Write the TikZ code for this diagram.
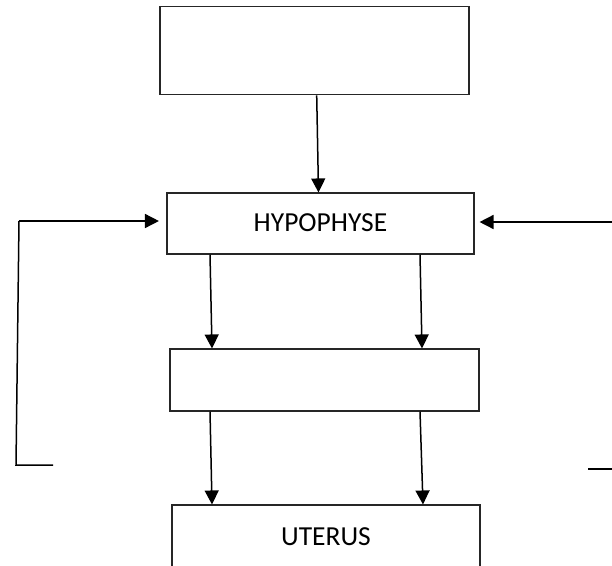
\documentclass[tikz,border=0pt]{standalone}
\usepackage{fontspec}
\setmainfont{Carlito}
\usetikzlibrary{arrows.meta,calc}
\begin{document}
\begin{tikzpicture}[x=1pt,y=-1pt,
  box/.style={draw=black!85,line width=1.1pt,inner sep=0pt,font=\fontsize{27.5}{32}\selectfont},
  arr/.style={line width=1.5pt,-{Triangle[length=14pt,width=14pt]}},
  ln/.style={line width=1.5pt}]
\useasboundingbox (0,0) rectangle (612,565);
\clip (0,0) rectangle (612,565);
\node[box,minimum width=309pt,minimum height=88.7pt] (top) at (314.5,50.5) {};
\node[box,minimum width=307pt,minimum height=61pt] (hyp) at (320.5,223.5) {\raisebox{1.5pt}{HYPOPHYSE}};
\node[box,minimum width=309pt,minimum height=62pt] (mid) at (324.5,380) {};
\node[box,minimum width=308pt,minimum height=70pt] (ute) at (326,540) {\raisebox{7pt}{UTERUS}};
% vertical arrows
\draw[arr] ([xshift=2.2pt]top.south) -- ([xshift=-2pt]hyp.north);
\draw[arr] ([xshift=-110.5pt]hyp.south) -- ([xshift=-112.5pt]mid.north);
\draw[arr] ([xshift=99.5pt]hyp.south) -- ([xshift=97.5pt]mid.north);
\draw[arr] ([xshift=-114.5pt]mid.south) -- ([xshift=-114pt]ute.north);
\draw[arr] ([xshift=95.5pt]mid.south) -- ([xshift=97pt]ute.north);
% feedback lines
\coordinate (lb) at (53,465);
\coordinate (lc) at (16,465);
\coordinate (lt) at (19,221);
\draw[ln] (lb) -- (lc) -- (lt);
\draw[arr] (lt) -- ([xshift=-7.5pt,yshift=2.5pt]hyp.west);
\coordinate (rt) at (614,222);
\draw[arr] (rt) -- ([xshift=5pt,yshift=1.5pt]hyp.east);
\coordinate (rb1) at (588,469);
\coordinate (rb2) at (614,469);
\draw[ln] (rb1) -- (rb2);
\end{tikzpicture}
\end{document}
